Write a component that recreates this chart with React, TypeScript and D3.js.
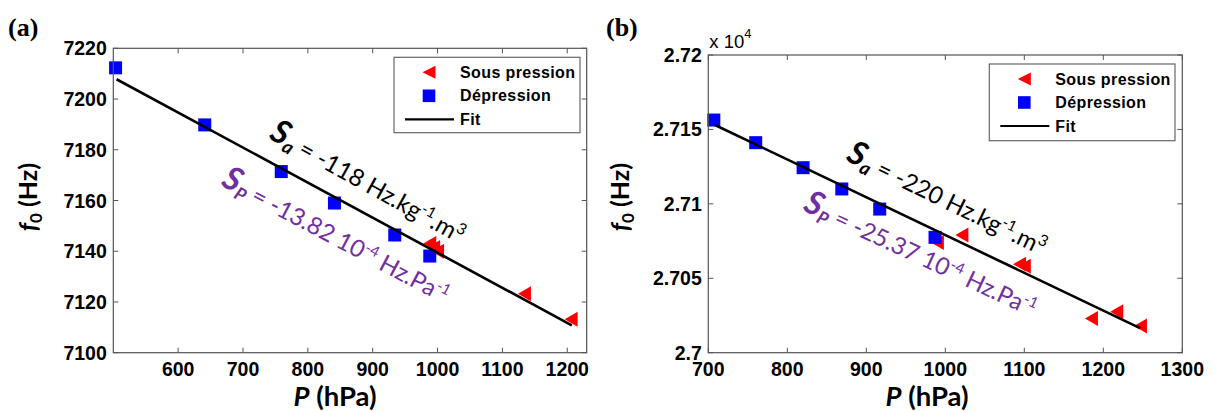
import React from "react";
import * as d3 from "d3";

// ---------- data ----------
const depA_P = [503.5, 641, 759, 841, 934, 988];
const depA_f = [7212.3, 7189.8, 7171.4, 7159.0, 7146.4, 7138.1];
const sousA_P = [988, 994, 1000, 1134, 1206];
const sousA_f = [7143, 7141.5, 7140, 7123.2, 7113.2];
const fitA_P = [505, 1207];
const fitA_f = [7207.8, 7110.8];
const xTicksA = [600, 700, 800, 900, 1000, 1100, 1200];
const yTicksA = [7100, 7120, 7140, 7160, 7180, 7200, 7220];

const depB_P = [707, 760, 820, 869, 917, 987];
const depB_f = [27156.3, 27141.1, 27124.3, 27110.0, 27096.5, 27077.5];
const sousB_P = [990, 1021, 1094, 1100, 1185, 1217, 1247];
const sousB_f = [27074, 27079, 27059.5, 27058, 27023, 27027.5, 27018];
const fitB_P = [708.5, 1246.5];
const fitB_f = [27153, 27016.5];
const xTicksB = [700, 800, 900, 1000, 1100, 1200, 1300];
const yTicksB = [27000, 27050, 27100, 27150, 27200];

const legendLabels = ["Sous pression", "Dépression", "Fit"];

const FONT = "'Liberation Sans', Arial, sans-serif";
const CAL = "Lato, 'Open Sans', sans-serif";

type PanelProps = {
  xDomain: [number, number];
  xRange: [number, number];
  yDomain: [number, number];
  yRange: [number, number];
  xTicks: number[];
  yTicks: number[];
  yFmt: (v: number) => string;
  depP: number[];
  depF: number[];
  sousP: number[];
  sousF: number[];
  fitP: number[];
  fitF: number[];
  legend: { x: number; y: number; w: number; h: number };
  label: string;
  labelX: number;
  yLabelX: number;
  xLabelX: number;
  sa: { x: number; y: number; text: string; angle: number };
  sp: { x: number; y: number; text: string; angle: number };
  exponent?: boolean;
};

function Panel(p: PanelProps) {
  const x = d3.scaleLinear().domain(p.xDomain).range(p.xRange);
  const y = d3.scaleLinear().domain(p.yDomain).range(p.yRange);
  const [x0, x1] = p.xRange;
  const [yb, yt] = p.yRange;
  const tl = 5;
  const axisColor = "#555";
  const tri = (cx: number, cy: number, w = 13, h = 15) =>
    `M${cx - w / 2},${cy} L${cx + w / 2},${cy - h / 2} L${cx + w / 2},${cy + h / 2} Z`;
  const line = d3
    .line<number>()
    .x((d, i) => x(p.fitP[i]))
    .y((d) => y(d));
  const lg = p.legend;
  const rowY = [lg.y + 15, lg.y + 38.5, lg.y + 62];
  const mx = lg.x + 35;
  const tx = lg.x + 66;
  return (
    <g>
      <text x={p.labelX} y={36} fontFamily="'Liberation Serif', 'Times New Roman', serif" fontWeight="bold" fontSize={26}>
        {p.label}
      </text>
      {/* markers */}
      {p.sousP.map((v, i) => (
        <path key={"s" + i} d={tri(x(v), y(p.sousF[i]))} fill="#ff0000" />
      ))}
      {p.depP.map((v, i) => (
        <rect key={"d" + i} x={x(v) - 6.5} y={y(p.depF[i]) - 6.5} width={13} height={13} fill="#0000ff" />
      ))}
      <path d={line(p.fitF) || ""} stroke="#000" strokeWidth={2.6} fill="none" />
      {/* box */}
      <rect x={x0} y={yt} width={x1 - x0} height={yb - yt} fill="none" stroke={axisColor} strokeWidth={1.2} />
      {p.xTicks.map((t) => (
        <g key={"xt" + t}>
          <line x1={x(t)} x2={x(t)} y1={yb} y2={yb - tl} stroke={axisColor} />
          <line x1={x(t)} x2={x(t)} y1={yt} y2={yt + tl} stroke={axisColor} />
          <text x={x(t)} y={yb + 23} textAnchor="middle" fontFamily={FONT} fontWeight="bold" fontSize={19.5}>
            {t}
          </text>
        </g>
      ))}
      {p.yTicks.map((t) => (
        <g key={"yt" + t}>
          <line x1={x0} x2={x0 + tl} y1={y(t)} y2={y(t)} stroke={axisColor} />
          <line x1={x1} x2={x1 - tl} y1={y(t)} y2={y(t)} stroke={axisColor} />
          <text x={x0 - 6.5} y={y(t) + 7} textAnchor="end" fontFamily={FONT} fontWeight="bold" fontSize={19.5}>
            {p.yFmt(t)}
          </text>
        </g>
      ))}
      {p.exponent && (
        <text x={x0 + 1} y={48} fontFamily={FONT} fontSize={18.5}>
          x 10<tspan fontSize={13} dy={-10}>4</tspan>
        </text>
      )}
      {/* axis labels */}
      <text
        transform={`translate(${p.yLabelX},197) rotate(-90)`}
        textAnchor="middle"
        fontFamily={CAL}
        fontWeight="bold"
        fontSize={25}
      >
        <tspan fontStyle="italic">f</tspan>
        <tspan fontSize={17} dy={5}>0</tspan>
        <tspan dy={-5}> (Hz)</tspan>
      </text>
      <text x={p.xLabelX} y={406} textAnchor="middle" fontFamily={CAL} fontWeight="bold" fontSize={27.5}>
        <tspan fontStyle="italic">P</tspan> (hPa)
      </text>
      {/* annotations */}
      <text transform={`translate(${p.sa.x},${p.sa.y}) rotate(${p.sa.angle})`} fontFamily={CAL} fontSize={24} fill="#000">
        <tspan fontStyle="italic" fontWeight="bold" fontSize={33}>S</tspan>
        <tspan fontStyle="italic" fontWeight="bold" fontSize={19} dy={5}>a</tspan>
        <tspan dy={-5}>{" = " + p.sa.text + " Hz.kg"}</tspan>
        <tspan fontSize={15} dy={-9}>-1</tspan>
        <tspan dy={9}>.m</tspan>
        <tspan fontSize={16} dy={-9}>3</tspan>
      </text>
      <text transform={`translate(${p.sp.x},${p.sp.y}) rotate(${p.sp.angle})`} fontFamily={CAL} fontSize={24} fill="#7030a0">
        <tspan fontStyle="italic" fontWeight="bold" fontSize={33}>S</tspan>
        <tspan fontStyle="italic" fontWeight="bold" fontSize={18} dy={5}>P</tspan>
        <tspan dy={-5}>{" = " + p.sp.text + " 10"}</tspan>
        <tspan fontSize={15} dy={-9}>-4</tspan>
        <tspan dy={9}> Hz.Pa</tspan>
        <tspan fontSize={15} dy={-9}>-1</tspan>
      </text>
      {/* legend */}
      <rect x={lg.x} y={lg.y} width={lg.w} height={lg.h} fill="#fff" stroke="#666" strokeWidth={1.2} />
      <path d={tri(mx, rowY[0], 13, 13)} fill="#ff0000" />
      <rect x={mx - 6.3} y={rowY[1] - 6.3} width={12.6} height={12.6} fill="#0000ff" />
      <line x1={lg.x + 11} x2={lg.x + 60} y1={rowY[2]} y2={rowY[2]} stroke="#000" strokeWidth={2.2} />
      {legendLabels.map((l, i) => (
        <text key={l} x={tx} y={rowY[i] + 5.5} fontFamily={FONT} fontWeight="bold" fontSize={16} letterSpacing={0.4}>
          {l}
        </text>
      ))}
    </g>
  );
}

export default function App() {
  return (
    <svg
      width={1215}
      height={412}
      style={{ position: "absolute", left: 0, top: 0, background: "#fff" }}
    >
      <Panel
        xDomain={[500, 1230]}
        xRange={[113.3, 586.7]}
        yDomain={[7100, 7220]}
        yRange={[352.7, 48.3]}
        xTicks={xTicksA}
        yTicks={yTicksA}
        yFmt={(v) => String(v)}
        depP={depA_P}
        depF={depA_f}
        sousP={sousA_P}
        sousF={sousA_f}
        fitP={fitA_P}
        fitF={fitA_f}
        legend={{ x: 394, y: 57.3, w: 186, h: 75.4 }}
        label="(a)"
        labelX={8}
        yLabelX={37}
        xLabelX={335}
        sa={{ x: 268, y: 138, text: "-118", angle: 29 }}
        sp={{ x: 220, y: 185, text: "-13.82", angle: 28 }}
      />
      <Panel
        xDomain={[700, 1300]}
        xRange={[708.3, 1182.3]}
        yDomain={[27000, 27200]}
        yRange={[352.7, 55]}
        xTicks={xTicksB}
        yTicks={yTicksB}
        yFmt={(v) => String(+(v / 1e4).toFixed(4))}
        depP={depB_P}
        depF={depB_f}
        sousP={sousB_P}
        sousF={sousB_f}
        fitP={fitB_P}
        fitF={fitB_f}
        legend={{ x: 989.3, y: 64, w: 185.7, h: 76.7 }}
        label="(b)"
        labelX={606}
        yLabelX={629}
        xLabelX={927}
        sa={{ x: 845, y: 160, text: "-220", angle: 26 }}
        sp={{ x: 802, y: 210, text: "-25.37", angle: 25 }}
        exponent
      />
    </svg>
  );
}
